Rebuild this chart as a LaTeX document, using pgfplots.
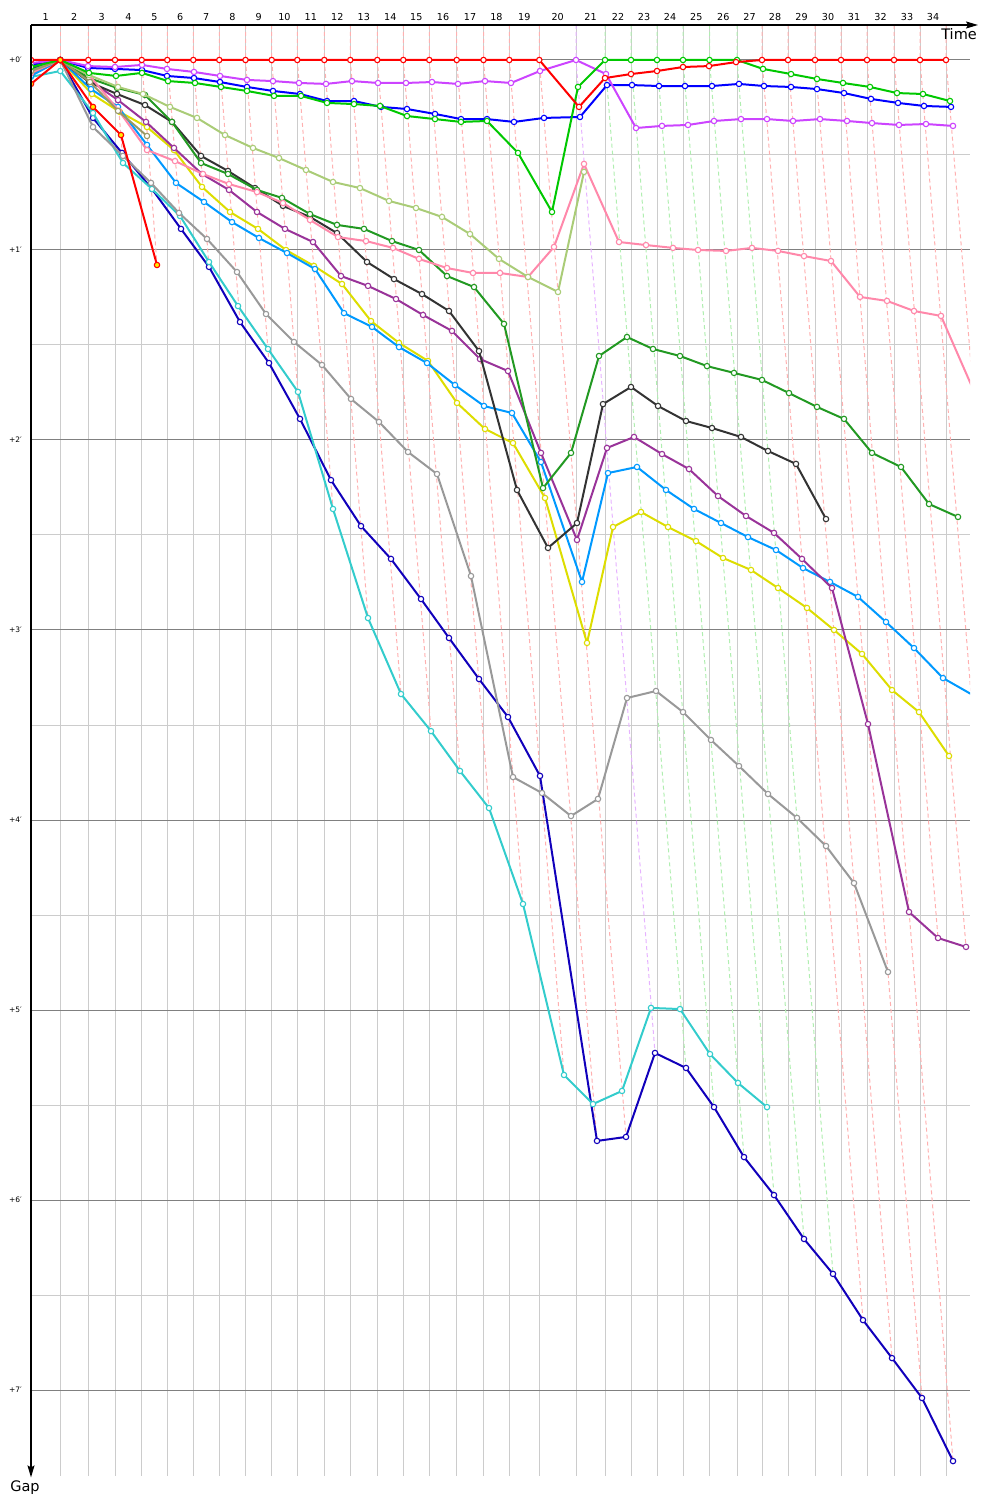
\documentclass[border=0pt]{standalone}
\usepackage{fontspec}
\setmainfont{DejaVu Sans}
\usepackage{pgfplots}
\pgfplotsset{compat=1.18}
\usetikzlibrary{arrows.meta}
\definecolor{cRed}{HTML}{FF0000}
\definecolor{cMag}{HTML}{CC44FF}
\definecolor{cBlue}{HTML}{0000FF}
\definecolor{cGreen}{HTML}{00C800}
\definecolor{cOlive}{HTML}{AACC77}
\definecolor{cPink}{HTML}{FF88AA}
\definecolor{cDGreen}{HTML}{229922}
\definecolor{cBlack}{HTML}{333333}
\definecolor{cPurple}{HTML}{993399}
\definecolor{cSky}{HTML}{0099FF}
\definecolor{cYellow}{HTML}{DDDD00}
\definecolor{cGray}{HTML}{999999}
\definecolor{cCyan}{HTML}{33CCCC}
\definecolor{cNavy}{HTML}{1100BB}
\definecolor{cKhaki}{HTML}{999966}
\definecolor{cMarkYellow}{HTML}{FFEE00}
\definecolor{gridlight}{HTML}{CCCCCC}
\definecolor{griddark}{HTML}{808080}
\definecolor{lapPink}{HTML}{FFB0B0}
\definecolor{lapGreen}{HTML}{B0EEB0}
\definecolor{lapViolet}{HTML}{E6B3FF}
\pgfplotsset{
  ser/.style={line width=2pt, mark=*, mark size=2.7pt, mark options={fill=white, line width=1.1pt, solid}},
  lapP/.style={draw=lapPink, line width=1pt, dash pattern=on 4pt off 3pt, mark=none},
  lapG/.style={draw=lapGreen, line width=1pt, dash pattern=on 4pt off 3pt, mark=none},
  lapV/.style={draw=lapViolet, line width=1pt, dash pattern=on 4pt off 3pt, mark=none},
}
\begin{document}
\begin{tikzpicture}
\useasboundingbox (-31pt,-24.5pt) rectangle (969pt,1475.5pt);
\begin{axis}[
  scale only axis, width=939pt, height=1450.5pt,
  xmin=31, xmax=970, ymin=-0.1842, ymax=7.45,
  y dir=reverse,
  axis line style={draw=none},
  clip mode=individual,
  clip marker paths=true,
  xtick={45.7,74.3,101.7,128.4,154.5,180.3,206.3,232.4,258.6,284.5,310.8,337.3,363.8,390.3,416.3,443,470.1,496.4,524.3,557.7,590.5,618,644,670,696.3,723.3,749.5,775,801.5,828,854,880.5,907,933},
  xticklabels={1,2,3,4,5,6,7,8,9,10,11,12,13,14,15,16,17,18,19,20,21,22,23,24,25,26,27,28,29,30,31,32,33,34},
  minor xtick={60.3,88.3,115,141.7,167.3,193.3,219.3,245.5,271.7,297.3,324.3,350.3,377.3,403.3,429.3,456.7,483.5,509.3,539.3,576,605,631,657,683,709.5,737,762,788,815,841,867,894,920,946},
  xmajorgrids=false, xminorgrids=true,
  minor x grid style={draw=gridlight, line width=1pt},
  ytick={0,1,2,3,4,5,6,7},
  yticklabels={+0′,+1′,+2′,+3′,+4′,+5′,+6′,+7′},
  minor ytick={0.5,1.5,2.5,3.5,4.5,5.5,6.5},
  ymajorgrids=true, yminorgrids=true,
  major y grid style={draw=griddark, line width=1pt},
  minor y grid style={draw=gridlight, line width=1pt},
  major tick length=0pt, minor tick length=0pt,
  xticklabel pos=upper,
  xticklabel style={font=\fontsize{9.6}{10}\selectfont, anchor=base, yshift=4pt, inner sep=0pt},
  yticklabel style={font=\fontsize{7.5}{8}\selectfont, anchor=east, inner sep=0pt, xshift=-9pt},
]
% lap lines
\addplot[lapP] coordinates {(60.3,-0.1842)(60.3,0)(60.3,0.058)};
\addplot[lapP] coordinates {(88.3,-0.1842)(88.3,0)(93,0.353)};
\addplot[lapP] coordinates {(115,-0.1842)(115,0)(123,0.542)};
\addplot[lapP] coordinates {(141.7,-0.1842)(141.7,0)(157,1.079)};
\addplot[lapP] coordinates {(167.3,-0.1842)(167.3,0)(181,0.889)};
\addplot[lapP] coordinates {(193.3,-0.1842)(193.3,0)(209,1.089)};
\addplot[lapP] coordinates {(219.3,-0.1842)(219.3,0)(240,1.379)};
\addplot[lapP] coordinates {(245.5,-0.1842)(245.5,0)(269,1.595)};
\addplot[lapP] coordinates {(271.7,-0.1842)(271.7,0)(300,1.889)};
\addplot[lapP] coordinates {(297.3,-0.1842)(297.3,0)(333,2.363)};
\addplot[lapP] coordinates {(324.3,-0.1842)(324.3,0)(368,2.937)};
\addplot[lapP] coordinates {(350.3,-0.1842)(350.3,0)(401,3.337)};
\addplot[lapP] coordinates {(377.3,-0.1842)(377.3,0)(431,3.532)};
\addplot[lapP] coordinates {(403.3,-0.1842)(403.3,0)(460,3.742)};
\addplot[lapP] coordinates {(429.3,-0.1842)(429.3,0)(489,3.937)};
\addplot[lapP] coordinates {(456.7,-0.1842)(456.7,0)(523,4.442)};
\addplot[lapP] coordinates {(483.5,-0.1842)(483.5,0)(564,5.342)};
\addplot[lapP] coordinates {(509.3,-0.1842)(509.3,0)(597,5.689)};
\addplot[lapP] coordinates {(539.3,-0.1842)(539.3,0)(626,5.668)};
\addplot[lapV] coordinates {(576,-0.1842)(576,0)(655,5.226)};
\addplot[lapG] coordinates {(605,-0.1842)(605,0)(686,5.305)};
\addplot[lapG] coordinates {(631,-0.1842)(631,0)(714,5.511)};
\addplot[lapG] coordinates {(657,-0.1842)(657,0)(744,5.774)};
\addplot[lapG] coordinates {(683,-0.1842)(683,0)(774,5.974)};
\addplot[lapG] coordinates {(709.5,-0.1842)(709.5,0)(804,6.205)};
\addplot[lapG] coordinates {(737,-0.1842)(737,0)(833,6.389)};
\addplot[lapP] coordinates {(762,-0.1842)(762,0)(863,6.632)};
\addplot[lapP] coordinates {(788,-0.1842)(788,0)(892,6.832)};
\addplot[lapP] coordinates {(815,-0.1842)(815,0)(922,7.042)};
\addplot[lapP] coordinates {(841,-0.1842)(841,0)(953,7.374)};
\addplot[lapP] coordinates {(867,-0.1842)(867,0)(938,4.621)};
\addplot[lapP] coordinates {(894,-0.1842)(894,0)(966,4.668)};
\addplot[lapP] coordinates {(920,-0.1842)(920,0)(971,3.337)};
\addplot[lapP] coordinates {(946,-0.1842)(946,0)(973,1.732)};
% series
\addplot[ser, color=cNavy] coordinates {(31,0.047)(60.3,0)(93,0.305)(122,0.489)(152,0.679)(181,0.889)(209,1.089)(240,1.379)(269,1.595)(300,1.889)(331,2.211)(361,2.453)(391,2.626)(421,2.837)(449,3.042)(479,3.258)(508,3.458)(540,3.768)(597,5.689)(626,5.668)(655,5.226)(686,5.305)(714,5.511)(744,5.774)(774,5.974)(804,6.205)(833,6.389)(863,6.632)(892,6.832)(922,7.042)(953,7.374)};
\addplot[ser, color=cCyan] coordinates {(31,0.089)(60.3,0.058)(93,0.279)(123,0.542)(152,0.679)(180,0.821)(209,1.063)(238,1.295)(268,1.521)(298,1.747)(333,2.363)(368,2.937)(401,3.337)(431,3.532)(460,3.742)(489,3.937)(523,4.442)(564,5.342)(593,5.495)(622,5.426)(651,4.989)(680,4.995)(710,5.232)(738,5.384)(767,5.511)};
\addplot[ser, color=cGray] coordinates {(31,0.079)(60.3,0)(93,0.353)(123,0.505)(151,0.647)(179,0.805)(207,0.942)(237,1.116)(266,1.337)(294,1.484)(322,1.605)(351,1.784)(379,1.905)(408,2.063)(437,2.179)(471,2.716)(513,3.774)(542,3.858)(571,3.979)(598,3.889)(627,3.358)(656,3.321)(683,3.432)(711,3.579)(739,3.716)(768,3.863)(797,3.989)(826,4.137)(854,4.332)(888,4.8)};
\addplot[ser, color=cYellow] coordinates {(31,0.074)(60.3,0)(92,0.179)(120,0.274)(147,0.353)(174,0.474)(202,0.668)(230,0.8)(258,0.889)(286,1.0)(314,1.084)(342,1.179)(371,1.374)(399,1.489)(428,1.584)(457,1.805)(485,1.942)(513,2.016)(545,2.305)(587,3.068)(613,2.458)(641,2.379)(668,2.458)(696,2.532)(723,2.621)(751,2.684)(778,2.779)(807,2.884)(834,3.0)(862,3.126)(892,3.316)(919,3.432)(949,3.663)};
\addplot[ser, color=cSky] coordinates {(31,0.084)(60.3,0)(91,0.153)(118,0.247)(147,0.447)(176,0.647)(204,0.747)(232,0.853)(259,0.937)(287,1.016)(315,1.1)(344,1.332)(372,1.405)(399,1.511)(427,1.595)(455,1.711)(484,1.821)(512,1.858)(541,2.116)(582,2.747)(608,2.174)(637,2.142)(666,2.263)(694,2.363)(721,2.437)(748,2.511)(776,2.579)(803,2.674)(830,2.747)(858,2.826)(886,2.958)(914,3.095)(943,3.253)(971,3.337)};
\addplot[ser, color=cPurple] coordinates {(31,0.068)(60.3,0)(89,0.105)(118,0.211)(146,0.326)(174,0.463)(202,0.6)(229,0.684)(257,0.8)(285,0.889)(313,0.958)(341,1.137)(368,1.189)(396,1.258)(423,1.342)(452,1.426)(480,1.574)(508,1.637)(541,2.068)(577,2.526)(607,2.042)(634,1.984)(662,2.074)(689,2.153)(718,2.295)(746,2.4)(774,2.489)(802,2.626)(832,2.779)(868,3.495)(909,4.484)(938,4.621)(966,4.668)};
\addplot[ser, color=cBlack] coordinates {(31,0.063)(60.3,0)(89,0.116)(117,0.179)(145,0.237)(172,0.326)(201,0.505)(228,0.584)(255,0.674)(283,0.768)(310,0.826)(337,0.911)(367,1.063)(394,1.153)(422,1.232)(449,1.321)(479,1.532)(517,2.263)(548,2.568)(577,2.437)(603,1.811)(631,1.721)(658,1.821)(686,1.9)(712,1.937)(741,1.984)(768,2.058)(796,2.126)(826,2.416)};
\addplot[ser, color=cDGreen] coordinates {(31,0.053)(60.3,0)(89,0.095)(117,0.147)(145,0.184)(172,0.326)(201,0.542)(228,0.6)(257,0.684)(282,0.726)(310,0.811)(337,0.868)(364,0.889)(392,0.953)(419,1.0)(447,1.137)(474,1.195)(504,1.389)(543,2.253)(571,2.068)(599,1.558)(627,1.458)(653,1.521)(680,1.558)(707,1.611)(734,1.647)(762,1.684)(789,1.753)(817,1.826)(844,1.889)(872,2.068)(901,2.142)(929,2.337)(958,2.405)};
\addplot[ser, color=cPink] coordinates {(31,0.068)(60.3,0)(89,0.079)(119,0.268)(147,0.474)(175,0.532)(203,0.6)(229,0.653)(257,0.695)(283,0.753)(310,0.842)(338,0.932)(366,0.953)(393,0.989)(419,1.047)(447,1.095)(473,1.121)(500,1.121)(528,1.142)(554,0.984)(584,0.547)(619,0.958)(646,0.974)(673,0.989)(698,1.0)(726,1.005)(752,0.989)(778,1.005)(804,1.032)(831,1.058)(860,1.247)(887,1.268)(914,1.321)(941,1.347)(973,1.732)};
\addplot[ser, color=cOlive] coordinates {(31,0.058)(60.3,0)(89,0.079)(118,0.142)(143,0.179)(170,0.247)(197,0.305)(225,0.395)(253,0.463)(279,0.516)(306,0.579)(333,0.642)(360,0.674)(389,0.742)(416,0.779)(442,0.826)(470,0.916)(499,1.047)(528,1.142)(558,1.221)(584,0.589)};
\addplot[ser, color=cKhaki] coordinates {(31,0.058)(60.3,0)(90,0.116)(118,0.268)(147,0.4)};
\addplot[ser, color=cBlue] coordinates {(31,0.026)(60.3,0)(88,0.042)(115,0.047)(142,0.053)(167,0.084)(194,0.095)(220,0.116)(247,0.142)(273,0.163)(300,0.179)(327,0.216)(354,0.216)(381,0.247)(407,0.258)(435,0.284)(461,0.311)(487,0.311)(514,0.326)(544,0.305)(580,0.3)(607,0.132)(632,0.132)(659,0.137)(685,0.137)(712,0.137)(739,0.126)(764,0.137)(791,0.142)(817,0.153)(844,0.174)(871,0.205)(898,0.226)(924,0.242)(951,0.247)};
\addplot[ser, color=cMag] coordinates {(31,0.016)(60.3,0)(88,0.032)(115,0.037)(142,0.026)(167,0.047)(194,0.063)(220,0.084)(247,0.105)(273,0.111)(299,0.121)(326,0.126)(352,0.111)(378,0.121)(406,0.121)(432,0.116)(458,0.126)(485,0.111)(511,0.121)(540,0.058)(576,0)(606,0.074)(636,0.358)(662,0.347)(688,0.342)(714,0.321)(741,0.311)(767,0.311)(793,0.321)(820,0.311)(847,0.321)(872,0.332)(899,0.342)(926,0.337)(953,0.347)};
\addplot[ser, color=cGreen] coordinates {(31,0.037)(60.3,0)(89,0.068)(116,0.084)(142,0.068)(168,0.111)(195,0.121)(221,0.142)(247,0.163)(274,0.189)(301,0.189)(327,0.226)(354,0.232)(380,0.242)(407,0.295)(435,0.311)(461,0.326)(487,0.321)(518,0.489)(552,0.8)(578,0.142)(605,0)(631,0)(657,0)(683,0)(709.5,0)(737,0)(763,0.047)(791,0.074)(817,0.1)(843,0.121)(870,0.142)(897,0.174)(923,0.179)(950,0.216)};
\addplot[ser, color=cRed] coordinates {(31,0)(60.3,0)(88.3,0)(115,0)(141.7,0)(167.3,0)(193.3,0)(219.3,0)(245.5,0)(271.7,0)(297.3,0)(324.3,0)(350.3,0)(377.3,0)(403.3,0)(429.3,0)(456.7,0)(483.5,0)(509.3,0)(539.3,0)(579,0.247)(605,0.095)(631,0.074)(657,0.058)(683,0.037)(709,0.032)(736,0.011)(762,0)(788,0)(815,0)(841,0)(867,0)(894,0)(920,0)(946,0)};
\addplot[draw=cRed, line width=2pt, mark=*, mark size=2.7pt, mark options={draw=cRed, fill=cMarkYellow, line width=1.1pt, solid}] coordinates {(31,0.126)(60.3,0)(93,0.247)(121,0.395)(157,1.079)};
% axis lines and titles
\draw[line width=1.2pt, -{Stealth[length=12pt,width=7pt,inset=2pt]}] (axis cs:31,-0.1842) -- (axis cs:978,-0.1842);
\draw[line width=1.2pt, -{Stealth[length=12pt,width=7pt,inset=2pt]}] (axis cs:31,-0.1842) -- (axis cs:31,7.46);
\node[anchor=north east, inner sep=0pt, font=\fontsize{14.5}{16}\selectfont] at (axis cs:977,-0.165) {Time};
\node[anchor=north, inner sep=0pt, font=\fontsize{14.5}{16}\selectfont] at (axis cs:25,7.475) {Gap};
\end{axis}
\end{tikzpicture}
\end{document}
